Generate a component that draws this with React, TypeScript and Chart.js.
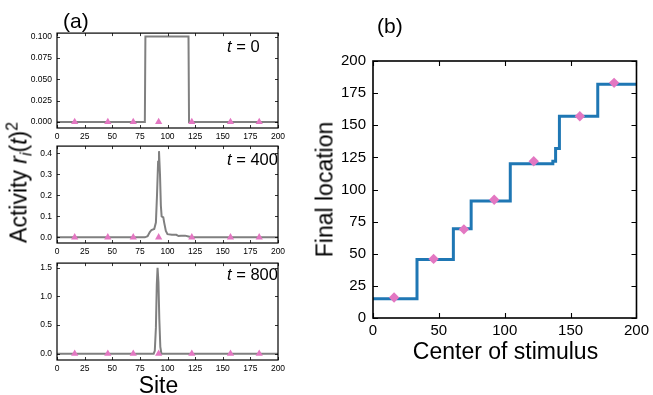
import React, { useEffect, useRef } from 'react';
import { Chart, registerables } from 'chart.js';

Chart.register(...registerables);

// ---------- data ----------
const STIM_CENTERS = [16, 46, 69, 92, 122, 157, 183];
const SITE_TICKS = [0, 25, 50, 75, 100, 125, 150, 175, 200];

const T0_SITES = [0, 79.5, 80, 119, 119.5, 200];
const T0_ACT = [0, 0, 0.1, 0.1, 0, 0];
const T0_YTICKS = [0, 0.025, 0.05, 0.075, 0.1];

const T400_SITES = [0, 79.5, 82, 84, 85.5, 88, 89.5, 90.5, 91.5, 92.3, 93.2, 94, 94.7, 96.2, 97, 98.5, 100, 104, 108, 110, 112, 116, 119, 122, 200];
const T400_ACT = [0, 0, 0.005, 0.025, 0.035, 0.04, 0.07, 0.2, 0.36, 0.41, 0.3, 0.15, 0.1, 0.095, 0.07, 0.03, 0.015, 0.012, 0.012, 0.006, 0.008, 0.008, 0.004, 0, 0];
const T400_YTICKS = [0, 0.1, 0.2, 0.3, 0.4];

const T800_SITES = [0, 87.5, 88.5, 89.5, 90.3, 91, 91.8, 92.6, 93.5, 94.5, 200];
const T800_ACT = [0, 0, 0.05, 0.45, 1.2, 1.5, 1.25, 0.6, 0.12, 0, 0];
const T800_YTICKS = [0, 0.5, 1.0, 1.5];

const CENTER_TICKS = [0, 50, 100, 150, 200];
const LOCATION_TICKS = [0, 25, 50, 75, 100, 125, 150, 175, 200];
const STEP_CENTERS = [0, 33.4, 61, 74.5, 104.2, 136.5, 138.6, 141.5, 170.6, 200];
const STEP_LOCATIONS = [15, 45.5, 69.5, 91, 120, 122, 132, 157, 182, 182];
const MARK_CENTERS = [16, 46, 69, 92, 122, 157, 183];
const MARK_LOCATIONS = [16, 46, 69, 92, 122, 157, 183];

// ---------- styling ----------
const FONT = '"Liberation Sans", Arial, Helvetica, sans-serif';
const PINK = '#e377c2';
const BLUE = '#1f77b4';
const GRAY = '#808080';

Chart.defaults.font.family = FONT;

const framePlugin = {
  id: 'frame',
  afterDraw(chart: any, _args: any, opts: any) {
    const { ctx, chartArea: a, scales } = chart;
    const xs = scales.x;
    const ys = scales.y;
    const L = opts.tickLen;
    ctx.save();
    ctx.strokeStyle = '#000';
    ctx.lineWidth = opts.tickWidth;
    ctx.beginPath();
    for (const t of xs.ticks) {
      const px = Math.round(xs.getPixelForValue(t.value)) + 0.5;
      ctx.moveTo(px, a.bottom);
      ctx.lineTo(px, a.bottom - L);
      ctx.moveTo(px, a.top);
      ctx.lineTo(px, a.top + L);
    }
    for (const t of ys.ticks) {
      const py = Math.round(ys.getPixelForValue(t.value)) + 0.5;
      ctx.moveTo(a.left, py);
      ctx.lineTo(a.left + L, py);
      ctx.moveTo(a.right, py);
      ctx.lineTo(a.right - L, py);
    }
    ctx.stroke();
    ctx.lineWidth = opts.frameWidth;
    ctx.strokeRect(a.left, a.top, a.right - a.left, a.bottom - a.top);
    ctx.restore();
  },
};

type PanelSpec = {
  width: number;
  height: number;
  padTop: number;
  padRight: number;
  yAxisWidth: number;
  xAxisHeight: number;
  fontSize: number;
  xTickPad: number;
  yTickPad: number;
  xTicks: number[];
  yTicks: number[];
  yDecimals: number;
  yMin: number;
  yMax: number;
  datasets: any[];
  tickLen: number;
  tickWidth: number;
  frameWidth: number;
};

function makeConfig(p: PanelSpec): any {
  return {
    type: 'scatter',
    data: { datasets: p.datasets },
    plugins: [framePlugin],
    options: {
      responsive: false,
      animation: false,
      events: [],
      layout: { padding: { left: 0, top: p.padTop, right: p.padRight, bottom: 0 } },
      plugins: {
        legend: { display: false },
        tooltip: { enabled: false },
        frame: { tickLen: p.tickLen, tickWidth: p.tickWidth, frameWidth: p.frameWidth },
      },
      scales: {
        x: {
          type: 'linear',
          min: 0,
          max: 200,
          grid: { display: false, drawTicks: false },
          border: { display: false },
          afterBuildTicks: (s: any) => {
            s.ticks = p.xTicks.map((v) => ({ value: v }));
          },
          afterFit: (s: any) => {
            s.height = p.xAxisHeight;
          },
          ticks: {
            autoSkip: false,
            maxRotation: 0,
            color: '#000',
            padding: p.xTickPad,
            font: { size: p.fontSize, family: FONT },
            callback: (v: any) => String(v),
          },
        },
        y: {
          type: 'linear',
          min: p.yMin,
          max: p.yMax,
          grid: { display: false, drawTicks: false },
          border: { display: false },
          afterBuildTicks: (s: any) => {
            s.ticks = p.yTicks.map((v) => ({ value: v }));
          },
          afterFit: (s: any) => {
            s.width = p.yAxisWidth;
          },
          ticks: {
            autoSkip: false,
            color: '#000',
            padding: p.yTickPad,
            font: { size: p.fontSize, family: FONT },
            callback: (v: any) => Number(v).toFixed(p.yDecimals),
          },
        },
      },
    },
  };
}

const pts = (xs: number[], ys: number[]) => xs.map((x, i) => ({ x, y: ys[i] }));

function activityPanel(sites: number[], act: number[], yTicks: number[], dec: number, yMin: number, yMax: number, height: number): PanelSpec {
  return {
    width: 290,
    height,
    padTop: 10,
    padRight: 12,
    yAxisWidth: 57,
    xAxisHeight: 20,
    fontSize: 8.5,
    xTickPad: 4,
    yTickPad: 5,
    xTicks: SITE_TICKS,
    yTicks,
    yDecimals: dec,
    yMin,
    yMax,
    tickLen: 3,
    tickWidth: 0.8,
    frameWidth: 1.2,
    datasets: [
      {
        data: pts(STIM_CENTERS, STIM_CENTERS.map(() => 0)),
        showLine: false,
        pointStyle: 'triangle',
        pointRadius: 4.2,
        backgroundColor: PINK,
        borderColor: PINK,
        borderWidth: 0,
      },
      {
        data: pts(sites, act),
        showLine: true,
        pointRadius: 0,
        borderColor: GRAY,
        borderWidth: 2,
        tension: 0,
      },
    ],
  };
}

const PANELS: { left: number; top: number; spec: PanelSpec }[] = [
  { left: 0, top: 23, spec: activityPanel(T0_SITES, T0_ACT, T0_YTICKS, 3, -0.007, 0.104, 125) },
  { left: 0, top: 136, spec: activityPanel(T400_SITES, T400_ACT, T400_YTICKS, 1, -0.027, 0.434, 127) },
  { left: 0, top: 253, spec: activityPanel(T800_SITES, T800_ACT, T800_YTICKS, 1, -0.11, 1.58, 127) },
  {
    left: 300,
    top: 45,
    spec: {
      width: 353,
      height: 303,
      padTop: 16,
      padRight: 15,
      yAxisWidth: 73,
      xAxisHeight: 30,
      fontSize: 15,
      xTickPad: 4,
      yTickPad: 7,
      xTicks: CENTER_TICKS,
      yTicks: LOCATION_TICKS,
      yDecimals: 0,
      yMin: 0,
      yMax: 200,
      tickLen: 5,
      tickWidth: 1.1,
      frameWidth: 1.6,
      datasets: [
        {
          data: pts(MARK_CENTERS, MARK_LOCATIONS),
          showLine: false,
          pointStyle: 'rectRot',
          pointRadius: 5.2,
          backgroundColor: PINK,
          borderColor: PINK,
          borderWidth: 0,
        },
        {
          data: pts(STEP_CENTERS, STEP_LOCATIONS),
          showLine: true,
          stepped: 'before',
          pointRadius: 0,
          borderColor: BLUE,
          borderWidth: 3,
          tension: 0,
        },
      ],
    },
  },
];

const abs = (left: number, top: number, extra: any = {}) => ({ position: 'absolute' as const, left, top, whiteSpace: 'nowrap' as const, ...extra });

export default function App() {
  const refs = useRef<(HTMLCanvasElement | null)[]>([]);

  useEffect(() => {
    const charts = PANELS.map((p, i) => new Chart(refs.current[i] as HTMLCanvasElement, makeConfig(p.spec)));
    return () => charts.forEach((c) => c.destroy());
  }, []);

  const tLabel = (top: number, val: string) => (
    <div style={abs(227, top, { fontSize: 16.5, lineHeight: '16.5px' })}>
      <i>t</i> = {val}
    </div>
  );

  return (
    <div style={{ position: 'absolute', left: 0, top: 0, width: 653, height: 395, background: '#fff', fontFamily: FONT, color: '#000', overflow: 'hidden' }}>
      {PANELS.map((p, i) => (
        <canvas
          key={i}
          ref={(el) => {
            refs.current[i] = el;
          }}
          width={p.spec.width}
          height={p.spec.height}
          style={{ position: 'absolute', left: p.left, top: p.top, width: p.spec.width, height: p.spec.height }}
        />
      ))}
      <div style={abs(63, 9.5, { fontSize: 21, lineHeight: '21px' })}>(a)</div>
      <div style={abs(377, 15, { fontSize: 21, lineHeight: '21px' })}>(b)</div>
      {tLabel(37.8, '0')}
      {tLabel(150.8, '400')}
      {tLabel(265.8, '800')}
      <div style={abs(58.5, 374, { width: 200, textAlign: 'center', fontSize: 23, lineHeight: '23px' })}>Site</div>
      <div style={abs(355.5, 340, { width: 300, textAlign: 'center', fontSize: 23, lineHeight: '23px' })}>Center of stimulus</div>
      <div style={abs(325 - 100, 189.5 - 11.5, { width: 200, height: 23, textAlign: 'center', fontSize: 23, lineHeight: '23px', transform: 'rotate(-90deg)' })}>
        Final location
      </div>
      <div style={abs(19 - 100, 182.5 - 11.5, { width: 200, height: 23, textAlign: 'center', fontSize: 23, lineHeight: '23px', transform: 'rotate(-90deg)' })}>
        Activity <i>r</i>
        <i style={{ fontSize: '0.68em', position: 'relative', top: '0.3em' }}>i</i>(<i>t</i>)
        <span style={{ fontSize: '0.68em', position: 'relative', top: '-0.55em' }}>2</span>
      </div>
    </div>
  );
}
